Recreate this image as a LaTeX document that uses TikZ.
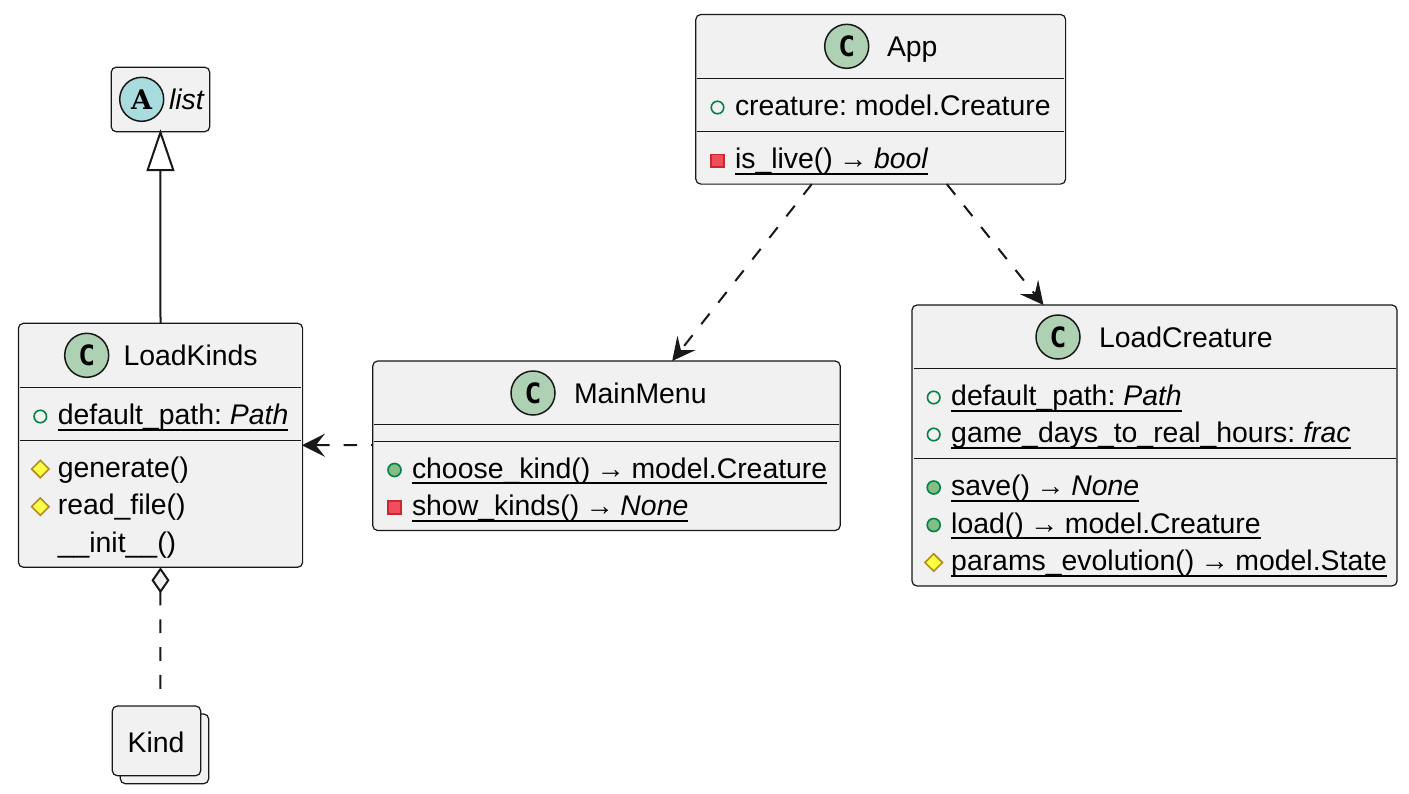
\documentclass[tikz,border=0pt]{standalone}
\usepackage{fontspec}
\setmainfont{Liberation Sans}
\newfontfamily\spotC{DejaVu Sans Mono}
\newfontfamily\spotA{DejaVu Serif}
\usetikzlibrary{arrows.meta,shapes.geometric}
\definecolor{boxfill}{HTML}{F1F1F1}
\definecolor{ink}{HTML}{181818}
\definecolor{classgreen}{HTML}{ADD1B2}
\definecolor{abstractblue}{HTML}{A9DCDF}
\definecolor{pubstroke}{HTML}{038048}
\definecolor{pubfill}{HTML}{84BE84}
\definecolor{privstroke}{HTML}{C82930}
\definecolor{privfill}{HTML}{F24D5C}
\definecolor{protstroke}{HTML}{B38D22}
\definecolor{protfill}{HTML}{FFFF44}
\frenchspacing
\newcommand{\ulx}[1]{\setbox0\hbox{#1}\rlap{\rule[-6pt]{\wd0}{1.6pt}}\box0 }
\newcommand{\arr}{\kern-1.5pt→\kern-1.5pt}
\newcommand{\classbox}[7]{% name x y w h sep1 sep2
  \node[umlbox,minimum width=#4pt,minimum height=#5pt] (#1) at (#2,#3) {};
  \draw[sepline] ([xshift=1.5pt,yshift=-#6pt]#1.north west) -- ([xshift=-1.5pt,yshift=-#6pt]#1.north east);
  \draw[sepline] ([xshift=1.5pt,yshift=-#7pt]#1.north west) -- ([xshift=-1.5pt,yshift=-#7pt]#1.north east);
}
\newcommand{\head}[5]{% name circlex cy textx title
  \node[spot,fill=classgreen] (#1c) at (#2,#3) {\spotC\bfseries\fontsize{28}{28}\selectfont C};
  \node[label text] (#1t) at (#4,#3+10) {#5};
}
\newcommand{\mem}[5]{% name style iconx baseline text (text at iconx+17.5)
  \node[#2] (#1i) at (#3,#4-8) {};
  \node[label text] (#1t) at (#3+17.5,#4) {#5};
}
\tikzset{
  x=1pt,y=-1pt,
  umlbox/.style={draw=ink,fill=boxfill,line width=1.2pt,rounded corners=5pt,anchor=north west,inner sep=0pt,outer sep=0pt},
  sepline/.style={draw=ink,line width=1pt},
  spot/.style={circle,draw=ink,line width=1.5pt,minimum size=44pt,inner sep=0pt,outer sep=0pt,text=black},
  label text/.style={anchor=base west,inner sep=0pt,outer sep=0pt,font=\fontsize{28.4}{28.4}\selectfont,text=black},
  pubfield/.style={circle,draw=pubstroke,fill=boxfill,line width=1.6pt,minimum size=12.5pt,inner sep=0pt},
  pubmeth/.style={circle,draw=pubstroke,fill=pubfill,line width=1.6pt,minimum size=13pt,inner sep=0pt},
  privmeth/.style={rectangle,draw=privstroke,fill=privfill,line width=1.6pt,minimum size=12.5pt,inner sep=0pt},
  protmeth/.style={diamond,draw=protstroke,fill=protfill,line width=1.6pt,minimum size=18pt,inner sep=0pt},
  relation/.style={draw=ink,line width=2pt},
  dep/.style={relation,dash pattern=on 13.5pt off 14pt,-{Stealth[length=23pt,width=23pt,inset=9pt,fill=ink]}},
}
\begin{document}
\begin{tikzpicture}
\useasboundingbox (0,0) rectangle (1409,793);
\fill[white] (0,0) rectangle (1409,793);

% list
\node[umlbox,minimum width=98.5pt,minimum height=64.5pt] (list) at (111.2,67.2) {};
\node[spot,fill=abstractblue] (listc) at (141.7,99.3) {\spotA\bfseries\fontsize{27}{27}\selectfont A};
\node[label text,font=\fontsize{28.4}{28.4}\selectfont\itshape] (listt) at (169,109.5) {list};

% LoadKinds
\classbox{loadkinds}{18.4}{323.3}{284.2}{244}{64}{117}
\head{lk}{86.7}{355.3}{123.5}{LoadKinds}
\mem{lka}{pubfield}{40.3}{424.5}{\ulx{default\_path: \textit{Path}}}
\mem{lkb}{protmeth}{40.3}{477}{generate()}
\mem{lkc}{protmeth}{40.3}{514.7}{read\_file()}
\node[label text] (lkd) at (57.8,552.4) {\_\_init\_\_()};

% MainMenu
\classbox{mainmenu}{372.7}{361}{467.5}{169.5}{63.3}{80}
\head{mm}{533}{393}{574}{MainMenu}
\mem{mma}{pubmeth}{394.5}{478}{\ulx{choose\_kind() \arr{} model.Creature}}
\mem{mmb}{privmeth}{394.5}{515.5}{\ulx{show\_kinds() \arr{} \textit{None}}}

% App
\classbox{app}{695.8}{14.5}{369.8}{169.6}{63.8}{116.8}
\head{ap}{846.7}{46.3}{887}{App}
\mem{apa}{pubfield}{717.5}{115.5}{creature: model.Creature}
\mem{apb}{privmeth}{717.5}{168.8}{\ulx{is\_live() \arr{} \textit{bool}}}

% LoadCreature
\classbox{loadcreature}{912}{305}{485}{281}{63.3}{153}
\head{lc}{1058}{337}{1099}{LoadCreature}
\mem{lca}{pubfield}{933.7}{405.5}{\ulx{default\_path: \textit{Path}}}
\mem{lcb}{pubfield}{933.7}{442.5}{\ulx{game\_days\_to\_real\_hours: \textit{frac}}}
\mem{lcc}{pubmeth}{933.7}{495.5}{\ulx{save() \arr{} \textit{None}}}
\mem{lcd}{pubmeth}{933.7}{533}{\ulx{load() \arr{} model.Creature}}
\mem{lce}{protmeth}{933.7}{570.5}{\ulx{params\_evolution() \arr{} model.State}}

% Kind
\node[umlbox,minimum width=88.4pt,minimum height=69.7pt] (kindback) at (120.3,714) {};
\node[umlbox,minimum width=88.4pt,minimum height=69.7pt] (kind) at (112.3,706) {};
\node[label text,anchor=base] (kindt) at (156,752.5) {Kind};

% connectors
\draw[relation,-{Triangle[open,length=42pt,width=28pt,fill=white]}] (loadkinds.north) -- ([yshift=2.5pt]list.south);
\draw[dep] ([xshift=116pt]app.south west) -- ([xshift=299.5pt]mainmenu.north west);
\draw[dep] ([xshift=251pt]app.south west) -- ([xshift=131.5pt]loadcreature.north west);
\draw[dep,dash phase=12pt] ([yshift=-84pt]mainmenu.north west) -- ([xshift=-0.7pt,yshift=-122pt]loadkinds.north east);
\coordinate (kindend) at (160.4,691);
\draw[relation,dash pattern=on 13.8pt off 14pt,{Diamond[open,length=26pt,width=18pt,fill=boxfill]}-] (loadkinds.south) -- (kindend);
\end{tikzpicture}
\end{document}
